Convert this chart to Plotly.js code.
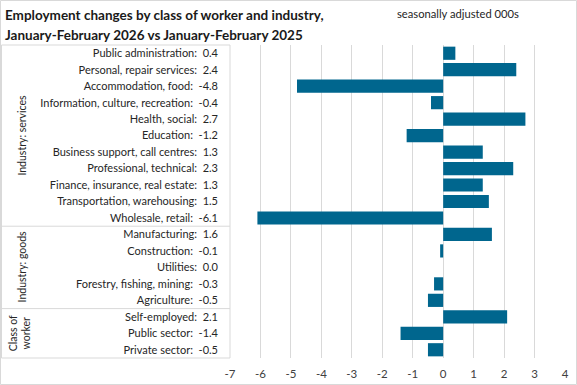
<!DOCTYPE html>
<html><head><meta charset="utf-8">
<script src="https://cdn.plot.ly/plotly-3.0.1.min.js"></script>
<style>html,body{margin:0;padding:0;background:#fff}#chart{width:577px;height:385px}</style>
</head><body><div id="chart"></div>
<script>
// Data
const categories = [
  "Public administration", "Personal, repair services", "Accommodation, food",
  "Information, culture, recreation", "Health, social", "Education",
  "Business support, call centres", "Professional, technical",
  "Finance, insurance, real estate", "Transportation, warehousing", "Wholesale, retail",
  "Manufacturing", "Construction", "Utilities", "Forestry, fishing, mining", "Agriculture",
  "Self-employed", "Public sector", "Private sector"
];
const values = [0.4, 2.4, -4.8, -0.4, 2.7, -1.2, 1.3, 2.3, 1.3, 1.5, -6.1,
  1.6, -0.1, 0.0, -0.3, -0.5, 2.1, -1.4, -0.5];
const groupNames = ["Industry: services", "Industry: goods", "Class of<br>worker"];
const groupStart = [0, 11, 16];
const groupEnd = [10, 15, 18];
const xTicks = [-7, -6, -5, -4, -3, -2, -1, 0, 1, 2, 3, 4];
const titleLines = ["Employment changes by class of worker and industry,", "January-February 2026 vs January-February 2025"];
const subtitle = "seasonally adjusted 000s";

const W = 577, H = 385, L = 230, R = 12, T = 45, B = 27;
const PW = W - L - R, PH = H - T - B;
const px = x => (x - L) / PW;
const py = y => 1 - (y - T) / PH;
const FONT = "Lato, sans-serif";
const lineCol = "#d9d9d9";

const ticktext = categories.map((c, i) => c + ":  " + values[i].toFixed(1));

const shapes = [];
shapes.push({type: "rect", xref: "paper", yref: "paper", x0: px(0.5), x1: px(576.5), y0: py(0.5), y1: py(384.5), line: {color: lineCol, width: 1}, layer: "below"});
shapes.push({type: "rect", xref: "paper", yref: "paper", x0: px(1.5), x1: px(230), y0: py(45), y1: py(358), line: {color: lineCol, width: 1}, layer: "below"});
for (let g = 0; g < groupStart.length - 1; g++) {
  shapes.push({type: "line", xref: "paper", yref: "y", x0: px(1.5), x1: px(230), y0: groupEnd[g] + 0.5, y1: groupEnd[g] + 0.5, line: {color: lineCol, width: 1}});
}

const annotations = groupNames.map((n, g) => ({
  text: n, xref: "paper", yref: "y", x: px(g === 2 ? 20 : 22), y: (groupStart[g] + groupEnd[g]) / 2,
  textangle: -90, showarrow: false, xanchor: "center", yanchor: "middle",
  font: {family: FONT, size: 10.5, color: "#262626"}
}));
annotations.push({text: subtitle, xref: "paper", yref: "paper", x: px(521), y: py(14), xanchor: "right", yanchor: "middle", showarrow: false, font: {family: FONT, size: 11.2, color: "#262626"}});
titleLines.forEach((t, i) => annotations.push({
  text: "<b>" + t + "</b>", xref: "paper", yref: "paper", x: px(3), y: py(15 + 19.5 * i),
  xanchor: "left", yanchor: "middle", showarrow: false, font: {family: FONT, size: 13.5, color: "#1a1a1a"}
}));

const trace = {
  type: "bar", orientation: "h", y: categories, x: values,
  marker: {color: "#00668E"}, hoverinfo: "x+y"
};

const layout = {
  width: W, height: H,
  margin: {l: L, r: R, t: T, b: B, pad: 0},
  paper_bgcolor: "#fff", plot_bgcolor: "#fff",
  showlegend: false, bargap: 0.2,
  xaxis: {range: [-7, 4], tickvals: xTicks, ticktext: xTicks.map(String), showgrid: true, gridcolor: lineCol, gridwidth: 1,
    zeroline: false, showline: false, ticks: "", ticklabelstandoff: 7, tickfont: {family: FONT, size: 11.5, color: "#404040"}, fixedrange: true},
  yaxis: {type: "category", autorange: "reversed", tickvals: categories, ticktext: ticktext,
    showgrid: false, zeroline: false, showline: false, ticks: "", ticklabelstandoff: 11,
    tickfont: {family: FONT, size: 11, color: "#262626"}, fixedrange: true},
  shapes: shapes, annotations: annotations
};
Plotly.newPlot("chart", [trace], layout, {displayModeBar: false, staticPlot: true});
</script></body></html>
